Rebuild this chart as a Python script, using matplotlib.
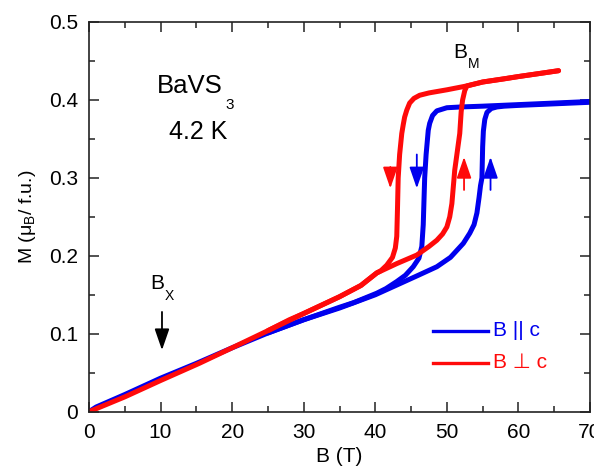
import matplotlib
matplotlib.use("Agg")
import matplotlib.pyplot as plt

plt.rcParams["font.family"] = ["Liberation Sans", "DejaVu Sans"]
plt.rcParams["mathtext.fontset"] = "custom"
plt.rcParams["mathtext.rm"] = "Liberation Sans"
plt.rcParams["mathtext.it"] = "Liberation Sans"
plt.rcParams["mathtext.default"] = "regular"

BLUE = "#0000ee"
RED = "#ff0a0a"

# B || c : field sweep up
blue_up_B = [0, 1, 5, 10, 15, 20, 25, 30, 35, 40, 43, 46, 48.6, 50.5, 52.3, 53.2,
             53.8, 54.2, 54.5, 54.7, 54.9, 55.0, 55.1, 55.3, 55.6, 56.2, 57, 58,
             60, 65, 70]
blue_up_M = [0, 0.006, 0.022, 0.043, 0.062, 0.082, 0.101, 0.118, 0.133, 0.150,
             0.1625, 0.175, 0.186, 0.198, 0.216, 0.229, 0.240, 0.255, 0.275, 0.290,
             0.300, 0.340, 0.360, 0.375, 0.384, 0.389, 0.391, 0.392, 0.393, 0.395,
             0.397]
# B || c : field sweep down
blue_dn_B = [70, 65, 60, 55, 52, 50, 48.6, 48.0, 47.6, 47.4, 47.1, 46.9, 46.8,
             46.7, 46.5, 46.1, 45.3, 44.2, 43.0, 41.5, 40.2, 37, 35, 30, 25]
blue_dn_M = [0.398, 0.396, 0.394, 0.392, 0.391, 0.390, 0.386, 0.380, 0.370, 0.361,
             0.330, 0.300, 0.270, 0.240, 0.212, 0.197, 0.186, 0.175, 0.167, 0.158,
             0.152, 0.140, 0.134, 0.118, 0.101]

# B perp c : field sweep up
red_up_B = [0, 5, 10, 15.4, 20, 25, 28, 30, 35, 38, 40.2, 43, 45.8, 47.5, 48.6,
            49.4, 50.0, 50.4, 50.7, 51.1, 51.4, 51.8, 52.0, 52.2, 52.5, 52.8, 55,
            58, 60, 63, 65.6]
red_up_M = [0, 0.019, 0.040, 0.062, 0.082, 0.104, 0.118, 0.126, 0.1475, 0.162,
            0.178, 0.190, 0.201, 0.212, 0.220, 0.228, 0.237, 0.250, 0.267, 0.310,
            0.330, 0.357, 0.385, 0.400, 0.412, 0.418, 0.423, 0.427, 0.430, 0.434,
            0.4375]
# B perp c : field sweep down
red_dn_B = [65.6, 63, 60, 55, 52.8, 50, 47.5, 46.2, 45.4, 44.8, 44.4, 44.1, 43.9,
            43.7, 43.4, 43.2, 43.1, 43.0, 42.8, 42.4, 41.6, 40.8, 40.2, 38, 35,
            30, 25]
red_dn_M = [0.4375, 0.434, 0.430, 0.423, 0.418, 0.413, 0.409, 0.406, 0.402, 0.396,
            0.387, 0.378, 0.368, 0.357, 0.330, 0.300, 0.260, 0.225, 0.210, 0.198,
            0.188, 0.181, 0.178, 0.162, 0.1475, 0.126, 0.104]

# sweep-direction arrows: (B, M start, M end)
arrows = [
    (42.1, 0.314, 0.2866, RED),
    (45.8, 0.330, 0.2866, BLUE),
    (52.4, 0.2845, 0.3268, RED),
    (56.1, 0.2845, 0.3268, BLUE),
    (10.2, 0.128, 0.079, "black"),
]

fig = plt.figure(figsize=(5.94, 4.71), dpi=100)
ax = fig.add_axes([0.1498, 0.1259, 0.8435, 0.8274])

lw = 3.6
for B, M in [(blue_up_B, blue_up_M), (blue_dn_B, blue_dn_M)]:
    ax.plot(B, M, color=BLUE, lw=lw, solid_capstyle="round", solid_joinstyle="round")
for B, M in [(red_up_B, red_up_M), (red_dn_B, red_dn_M)]:
    ax.plot(B, M, color=RED, lw=lw, solid_capstyle="round", solid_joinstyle="round")

for x, y0, y1, c in arrows:
    ax.annotate("", xy=(x, y1), xytext=(x, y0),
                arrowprops=dict(arrowstyle="-|>,head_length=1.3,head_width=0.45",
                                color=c, lw=1.3, shrinkA=0, shrinkB=0))

ax.set_xlim(0, 70)
ax.set_ylim(0, 0.5)
ax.set_xticks(range(0, 71, 10))
ax.set_xticks(range(5, 70, 10), minor=True)
ax.set_yticks([0, 0.1, 0.2, 0.3, 0.4, 0.5])
ax.set_yticklabels(["0", "0.1", "0.2", "0.3", "0.4", "0.5"])
ax.set_yticks([0.05, 0.15, 0.25, 0.35, 0.45], minor=True)
ax.tick_params(which="both", direction="in", top=True, right=True,
               width=1.1, colors="#222222", labelcolor="black", labelsize=15)
ax.tick_params(which="major", length=7, pad=8)
ax.tick_params(which="minor", length=4)
for s in ax.spines.values():
    s.set_linewidth(1.2)
    s.set_color("#222222")

ax.set_xlabel("B (T)", fontsize=15, labelpad=4)
ax.set_ylabel(r"M (μ$_B$/ f.u.)", fontsize=14, labelpad=8)

# annotations
ax.text(0.2016, 0.818, "BaVS", transform=ax.transAxes, fontsize=18.5, ha="center", va="baseline")
ax.text(0.281, 0.787, "3", transform=ax.transAxes, fontsize=11, ha="center", va="center")
ax.text(0.2186, 0.719, "4.2 K", transform=ax.transAxes, fontsize=18, ha="center", va="center")
ax.text(0.74, 0.923, "B", transform=ax.transAxes, fontsize=15, ha="center", va="center")
ax.text(0.768, 0.893, "M", transform=ax.transAxes, fontsize=10, ha="center", va="center")
ax.text(0.136, 0.33, "B", transform=ax.transAxes, fontsize=15, ha="center", va="center")
ax.text(0.161, 0.297, "X", transform=ax.transAxes, fontsize=10, ha="center", va="center")

# key
ax.plot([0.687, 0.796], [0.2077, 0.2077], transform=ax.transAxes, color=BLUE, lw=2.4)
ax.plot([0.687, 0.796], [0.1257, 0.1257], transform=ax.transAxes, color=RED, lw=2.4)
ax.text(0.806, 0.2077, "B || c", transform=ax.transAxes, color=BLUE, fontsize=15, va="center")
ax.text(0.806, 0.1257, "B ⊥ c", transform=ax.transAxes, color=RED, fontsize=15, va="center",
        family=["Liberation Sans", "DejaVu Sans"])

fig.savefig("out.png", dpi=100)
